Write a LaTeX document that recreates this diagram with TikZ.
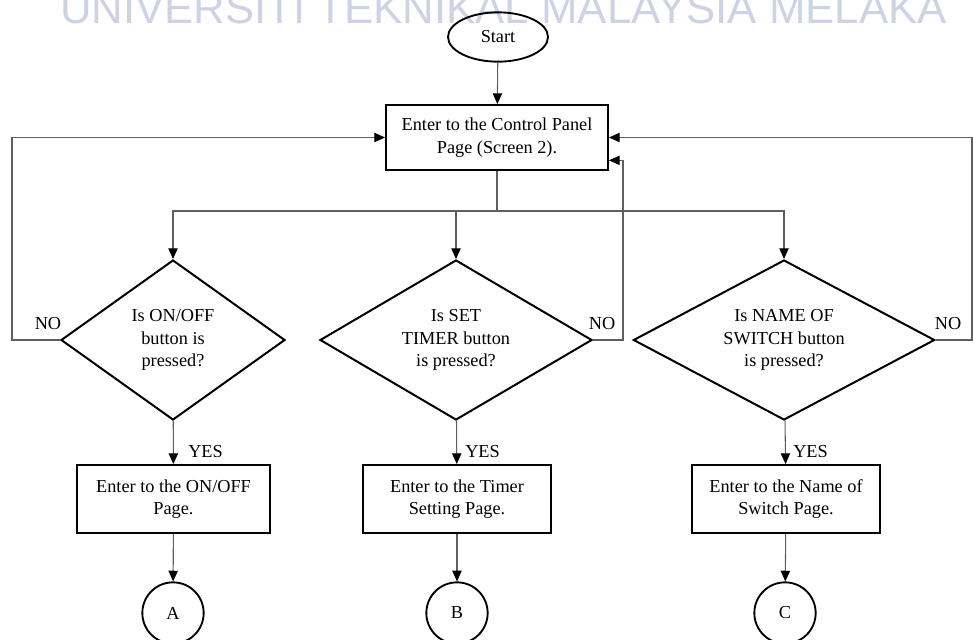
\documentclass[tikz,border=0pt]{standalone}
\usepackage{fontspec}
\setmainfont{Liberation Serif}
\newfontfamily\crestfont{Liberation Sans}
\usetikzlibrary{shapes.geometric,arrows.meta,positioning}
\definecolor{crestblue}{RGB}{205,210,228}
\definecolor{linegray}{RGB}{95,95,95}

\begin{document}
\begin{tikzpicture}[x=0.75pt, y=-0.75pt,
    every node/.style={font=\fontsize{13.7}{16.9}\selectfont, align=center},
    terminal/.style={ellipse,draw,line width=1.4pt,inner sep=0pt,minimum width=75pt,minimum height=37pt},
    process/.style={rectangle,draw,line width=1.5pt,inner sep=2pt,minimum height=51pt},
    decision/.style={diamond,draw,line width=1.5pt,inner sep=0pt,minimum height=120pt},
    connector/.style={circle,draw,line width=1.4pt,inner sep=0pt,minimum size=46pt},
    lbl/.style={draw=none,fill=none,inner sep=0pt},
    crest/.style={font=\crestfont\fontsize{32.8}{36}\selectfont,text=crestblue,inner sep=0pt},
    flow/.style={draw=linegray,line width=0.8pt},
    arrow/.style={flow,-{Triangle[length=8pt,width=7pt,color=black]}}
]
\useasboundingbox (0,0) rectangle (973,639);

% watermark behind the chart
\node[crest, anchor=base west] (uni) at (60,23) {UNIVERSITI TEKNIKAL MALAYSIA MELAKA};

\node[terminal] (start) at (498,37) {Start};
\node[process, minimum width=166.5pt, minimum height=48.75pt] (panel) at (497,137.5)
    {Enter to the Control Panel\\Page (Screen 2).};

\node[decision, aspect=1.4,  minimum width=168pt] (onoff)  at (173,340) {Is ON/OFF\\button is\\pressed?};
\node[decision, aspect=1.7,  minimum width=204pt] (timer)  at (456,340) {Is SET\\TIMER button\\is pressed?};
\node[decision, aspect=1.88, minimum width=226pt] (swname) at (784,340) {Is NAME OF\\SWITCH button\\is pressed?};

\node[process, minimum width=144.75pt] (onoffpg) at (173.5,499) {Enter to the ON/OFF\\Page.};
\node[process, minimum width=141pt]    (timerpg) at (457,499)   {Enter to the Timer\\Setting Page.};
\node[process, minimum width=141pt]    (namepg)  at (786,499)   {Enter to the Name of\\Switch Page.};

\node[connector] (ca) at (173,613) {A};
\node[connector] (cb) at (457,613) {B};
\node[connector] (cc) at (785,613) {C};

\coordinate (split) at (497,211);
\coordinate (noleft) at (12,340);
\coordinate (nomid) at (623,340);
\coordinate (noright) at (972,340);

\node[lbl] (no1) at (48,324)  {NO};
\node[lbl] (no2) at (602,324) {NO};
\node[lbl] (no3) at (948,324) {NO};
\node[lbl, anchor=west] (yes1) at (188,452) {YES};
\node[lbl, anchor=west] (yes2) at (465,452) {YES};
\node[lbl, anchor=west] (yes3) at (793,452) {YES};

\draw[arrow] (start) -- (panel);
\draw[flow] (panel) -- (split);
\draw[arrow] (split) -| (onoff.north);
\draw[arrow] (split) -| (timer.north);
\draw[arrow] (split) -| (swname.north);

\draw[arrow] (onoff.west) -- (noleft) |- (panel.west);
\draw[arrow] (timer.east) -- (nomid) |- ([yshift=8pt]panel.south east);
\draw[arrow] (swname.east) -- (noright) |- (panel.east);

\path[arrow]
    (onoff) edge (onoffpg)
    (timer) edge (timerpg)
    (swname) edge (namepg)
    (onoffpg) edge (ca)
    (timerpg) edge (cb)
    (namepg) edge (cc);
\end{tikzpicture}
\end{document}
